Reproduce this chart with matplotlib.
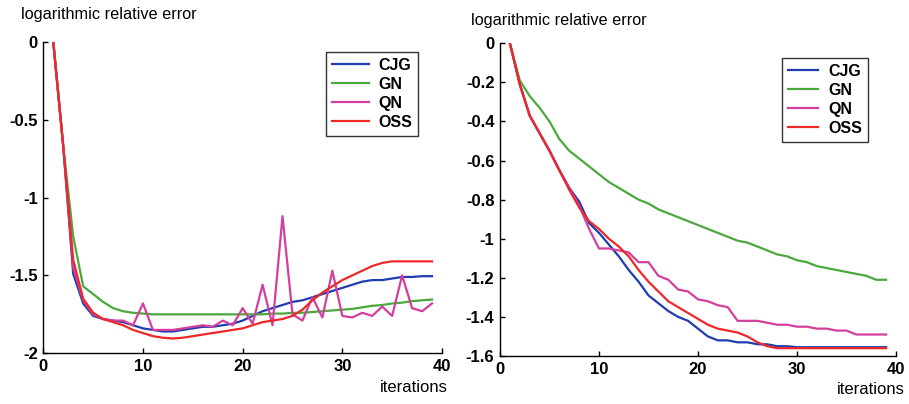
import matplotlib
matplotlib.use("Agg")
import matplotlib.pyplot as plt
from matplotlib.ticker import FuncFormatter

plt.rcParams['font.family'] = ['Liberation Sans', 'DejaVu Sans']

iters = list(range(1, 40))

# Left panel
left_cjg = [0, -0.67, -1.49, -1.68, -1.76, -1.78, -1.79, -1.80, -1.82, -1.84,
            -1.85, -1.86, -1.86, -1.85, -1.84, -1.83, -1.83, -1.82, -1.81, -1.79,
            -1.76, -1.73, -1.71, -1.69, -1.67, -1.66, -1.64, -1.62, -1.60, -1.58,
            -1.56, -1.54, -1.53, -1.53, -1.52, -1.51, -1.51, -1.505, -1.505]
left_gn = [0, -0.67, -1.25, -1.57, -1.62, -1.67, -1.71, -1.73, -1.74, -1.745,
           -1.75, -1.75, -1.75, -1.75, -1.75, -1.75, -1.75, -1.75, -1.75, -1.75,
           -1.75, -1.75, -1.745, -1.745, -1.74, -1.74, -1.735, -1.73, -1.725, -1.72,
           -1.715, -1.705, -1.695, -1.69, -1.68, -1.675, -1.665, -1.66, -1.655]
left_qn = [0, -0.67, -1.45, -1.66, -1.75, -1.78, -1.79, -1.79, -1.82, -1.68,
           -1.85, -1.85, -1.85, -1.84, -1.83, -1.82, -1.83, -1.79, -1.82, -1.71,
           -1.81, -1.56, -1.82, -1.12, -1.75, -1.79, -1.64, -1.77, -1.47, -1.76,
           -1.77, -1.74, -1.76, -1.70, -1.76, -1.50, -1.71, -1.73, -1.68]
left_oss = [0, -0.67, -1.40, -1.65, -1.74, -1.78, -1.80, -1.82, -1.85, -1.87,
            -1.89, -1.90, -1.905, -1.90, -1.89, -1.88, -1.87, -1.86, -1.85, -1.84,
            -1.82, -1.80, -1.79, -1.78, -1.76, -1.72, -1.66, -1.61, -1.57, -1.53,
            -1.50, -1.47, -1.44, -1.42, -1.41, -1.41, -1.41, -1.41, -1.41]

# Right panel
right_cjg = [0, -0.21, -0.37, -0.46, -0.55, -0.65, -0.74, -0.81, -0.92, -0.97,
             -1.03, -1.09, -1.16, -1.22, -1.29, -1.33, -1.37, -1.40, -1.42, -1.46,
             -1.50, -1.52, -1.52, -1.53, -1.53, -1.54, -1.54, -1.55, -1.55, -1.555,
             -1.555, -1.555, -1.555, -1.555, -1.555, -1.555, -1.555, -1.555, -1.555]
right_gn = [0, -0.19, -0.27, -0.33, -0.40, -0.49, -0.55, -0.59, -0.63, -0.67,
            -0.71, -0.74, -0.77, -0.80, -0.82, -0.85, -0.87, -0.89, -0.91, -0.93,
            -0.95, -0.97, -0.99, -1.01, -1.02, -1.04, -1.06, -1.08, -1.09, -1.11,
            -1.12, -1.14, -1.15, -1.16, -1.17, -1.18, -1.19, -1.21, -1.21]
right_qn = [0, -0.21, -0.37, -0.46, -0.55, -0.65, -0.74, -0.83, -0.95, -1.05,
            -1.05, -1.06, -1.07, -1.12, -1.12, -1.19, -1.21, -1.26, -1.27, -1.31,
            -1.32, -1.34, -1.35, -1.42, -1.42, -1.42, -1.43, -1.44, -1.44, -1.45,
            -1.45, -1.46, -1.46, -1.47, -1.47, -1.49, -1.49, -1.49, -1.49]
right_oss = [0, -0.21, -0.37, -0.46, -0.55, -0.65, -0.75, -0.84, -0.91, -0.95,
             -1.00, -1.04, -1.09, -1.16, -1.22, -1.27, -1.32, -1.35, -1.38, -1.41,
             -1.44, -1.46, -1.47, -1.48, -1.50, -1.53, -1.55, -1.56, -1.56, -1.56,
             -1.56, -1.56, -1.56, -1.56, -1.56, -1.56, -1.56, -1.56, -1.56]

labels = ["CJG", "GN", "QN", "OSS"]
colors = ["#1f3db0", "#4aa83c", "#d43f9e", "#ee2828"]

left_ticks = [0, -0.5, -1, -1.5, -2]
right_ticks = [0, -0.2, -0.4, -0.6, -0.8, -1, -1.2, -1.4, -1.6]
x_ticks = [0, 10, 20, 30, 40]

fig = plt.figure(figsize=(9.09, 4.04), dpi=100)
W, H = 909, 404

def fmt(v, pos):
    return f"{v:g}"

def setup(ax, yticks, ylim):
    ax.set_xlim(0, 40)
    ax.set_ylim(*ylim)
    ax.set_xticks(x_ticks)
    ax.set_yticks(yticks)
    ax.yaxis.set_major_formatter(FuncFormatter(fmt))
    for s in ["top", "right"]:
        ax.spines[s].set_visible(False)
    for s in ["left", "bottom"]:
        ax.spines[s].set_linewidth(1.0)
    ax.tick_params(direction="in", length=3.5, width=1.0, labelsize=12, pad=4)
    for lab in ax.get_xticklabels() + ax.get_yticklabels():
        lab.set_fontweight("bold")

ax1 = fig.add_axes([43.3 / W, 1 - 353.3 / H, (442 - 43.3) / W, (353.3 - 41.7) / H])
ax2 = fig.add_axes([500 / W, 1 - 356 / H, (896 - 500) / W, (356 - 43.3) / H])

for ax, data in [(ax1, [left_cjg, left_gn, left_qn, left_oss]),
                 (ax2, [right_cjg, right_gn, right_qn, right_oss])]:
    for y, lab, c in zip(data, labels, colors):
        ax.plot(iters, y, color=c, lw=1.6, label=lab)

setup(ax1, left_ticks, (-2, 0))
setup(ax2, right_ticks, (-1.6, 0))

for ax, (lx, ly), hl in [(ax1, (326, 52), 2.3), (ax2, (782, 58), 1.9)]:
    leg = ax.legend(loc="upper left", bbox_to_anchor=(lx / W, 1 - ly / H),
                    bbox_transform=fig.transFigure, frameon=True, fancybox=False,
                    edgecolor="black", prop={"weight": "bold", "size": 11.5},
                    handlelength=hl, handletextpad=0.6, labelspacing=0.24,
                    borderpad=0.38, borderaxespad=0)
    leg.get_frame().set_linewidth(1.0)

fig.text(20.7 / W, 1 - 14 / H, "logarithmic relative error", fontsize=11.7,
         ha="left", va="center")
fig.text(470.7 / W, 1 - 20 / H, "logarithmic relative error", fontsize=11.7,
         ha="left", va="center")
fig.text(448 / W, 1 - 388 / H, "iterations", fontsize=12, ha="right", va="center")
fig.text(905 / W, 1 - 390 / H, "iterations", fontsize=12, ha="right", va="center")

fig.savefig("out.png", dpi=100)
